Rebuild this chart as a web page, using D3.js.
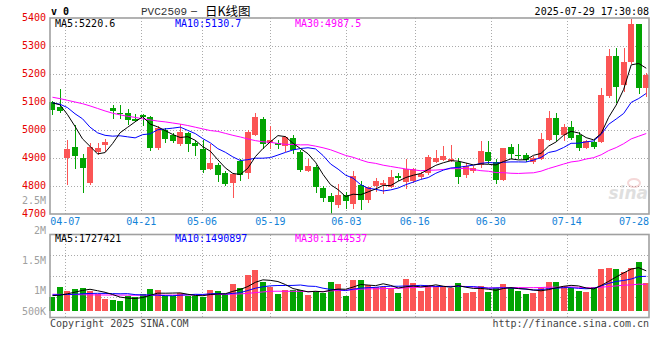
<!DOCTYPE html>
<html>
<head>
<meta charset="utf-8">
<script src="https://cdn.jsdelivr.net/npm/d3@7"></script>
<style>
    body { margin: 0; background: #fff; }
    svg text { font-family: 'DejaVu Sans Mono', monospace; font-size: 10px; }
</style>
</head>
<body>
<svg id="chart" width="660" height="360"></svg>
<script>
const dates = [
    '04-02', '04-03', '04-07', '04-08', '04-09', '04-10', '04-11', '04-14', '04-15', '04-16',
    '04-17', '04-18', '04-21', '04-22', '04-23', '04-24', '04-25', '04-28', '04-29', '04-30',
    '05-06', '05-07', '05-08', '05-09', '05-12', '05-13', '05-14', '05-15', '05-16', '05-19',
    '05-20', '05-21', '05-22', '05-23', '05-26', '05-27', '05-28', '05-29', '05-30', '06-03',
    '06-04', '06-05', '06-06', '06-09', '06-10', '06-11', '06-12', '06-13', '06-16', '06-17',
    '06-18', '06-19', '06-20', '06-23', '06-24', '06-25', '06-26', '06-27', '06-30', '07-01',
    '07-02', '07-03', '07-04', '07-07', '07-08', '07-09', '07-10', '07-11', '07-14', '07-15',
    '07-16', '07-17', '07-18', '07-21', '07-22', '07-23', '07-24', '07-25', '07-28', '07-29'
]

const opens = [
    5101, 5083, 4899, 4941, 4901, 4809, 4923, 4946, 5080, 5062,
    5062, 5040, 5053, 5047, 4934, 4999, 4981, 4950, 4990, 4952,
    4933, 4859, 4874, 4845, 4809, 4889, 4847, 4981, 5038, 4955,
    4955, 4942, 4972, 4921, 4852, 4868, 4794, 4763, 4733, 4769,
    4734, 4805, 4749, 4799, 4804, 4796, 4837, 4816, 4818, 4833,
    4848, 4887, 4892, 4891, 4885, 4838, 4852, 4876, 4922, 4887,
    4822, 4940, 4911, 4910, 4886, 4895, 4965, 5044, 4981, 5012,
    4981, 4934, 4957, 4957, 5122, 5264, 5160, 5243, 5377, 5151
]
const highs = [
    5105, 5146, 4966, 5019, 4916, 4954, 4954, 4968, 5091, 5090,
    5075, 5057, 5057, 5050, 5013, 5007, 4990, 5022, 4993, 4966,
    4964, 4951, 4881, 4852, 4847, 4895, 5000, 5059, 5046, 5014,
    4964, 4978, 4983, 4930, 4896, 4875, 4800, 4774, 4806, 4779,
    4852, 4818, 4797, 4829, 4823, 4858, 4847, 4895, 4865, 4850,
    4910, 4930, 4942, 4948, 4901, 4883, 4872, 4961, 4962, 4895,
    4937, 4949, 4949, 4919, 4907, 4991, 5068, 5062, 5020, 5032,
    4993, 4965, 4967, 5151, 5288, 5294, 5294, 5395, 5380, 5202
]
const lows = [
    5053, 5060, 4802, 4861, 4775, 4802, 4909, 4921, 5040, 5040,
    5019, 5028, 5013, 4926, 4930, 4954, 4954, 4942, 4921, 4906,
    4845, 4857, 4814, 4800, 4756, 4818, 4826, 4978, 4933, 4933,
    4933, 4922, 4915, 4849, 4849, 4775, 4744, 4701, 4720, 4718,
    4718, 4714, 4740, 4778, 4772, 4794, 4818, 4790, 4810, 4825,
    4838, 4883, 4888, 4885, 4806, 4829, 4845, 4865, 4880, 4806,
    4818, 4895, 4898, 4886, 4878, 4893, 4961, 4961, 4961, 4963,
    4925, 4931, 4931, 4953, 5116, 5098, 5136, 5235, 5128, 5119
]
const closes = [
    5072, 5069, 4932, 4906, 4863, 4938, 4934, 4956, 5067, 5056,
    5035, 5032, 5047, 4935, 5007, 4969, 4962, 4993, 4950, 4942,
    4856, 4881, 4839, 4806, 4842, 4838, 4993, 5046, 4950, 4963,
    4948, 4975, 4927, 4856, 4870, 4796, 4758, 4744, 4767, 4747,
    4837, 4749, 4795, 4819, 4811, 4833, 4827, 4861, 4860, 4842,
    4905, 4901, 4907, 4897, 4833, 4873, 4866, 4925, 4890, 4822,
    4934, 4913, 4907, 4893, 4901, 4967, 5044, 4981, 5012, 4973,
    4937, 4961, 4941, 5124, 5264, 5155, 5243, 5377, 5149, 5195
]

// price moving averages
const ma5 = [
    5097, 5090, 5055, 5013, 4968.4, 4941.6, 4914.6, 4919.4, 4951.6, 4990.2,
    5009.6, 5029.2, 5047.4, 5021, 5011.2, 4998, 4984, 4973.2, 4976.2, 4963.2,
    4940.6, 4924.4, 4893.6, 4864.8, 4844.8, 4841.2, 4863.6, 4905, 4933.8, 4958,
    4980, 4976.4, 4952.6, 4933.8, 4915.2, 4884.8, 4841.4, 4804.8, 4787, 4762.4,
    4770.6, 4768.8, 4779, 4789.4, 4802.2, 4801.4, 4817, 4830.2, 4838.4, 4844.6,
    4859, 4873.8, 4883, 4890.4, 4888.6, 4882.2, 4875.2, 4878.8, 4877.4, 4875.2,
    4887.4, 4896.8, 4893.2, 4893.8, 4909.6, 4916.2, 4942.4, 4957.2, 4981, 4995.4,
    4989.4, 4972.8, 4964.8, 4987.2, 5045.4, 5089, 5145.4, 5232.6, 5237.6, 5220.6
]
const ma10 = [
    5097, 5092, 5080, 5058, 5040, 5010, 4990, 4981, 4978, 4979.3,
    4975.6, 4971.9, 4983.4, 4986.3, 5000.7, 5003.8, 5006.6, 5010.3, 4998.6, 4987.2,
    4969.3, 4954.2, 4933.4, 4920.5, 4904, 4890.9, 4894, 4899.3, 4899.3, 4901.4,
    4910.6, 4920, 4928.8, 4933.8, 4936.6, 4932.4, 4908.9, 4878.7, 4860.4, 4838.8,
    4827.7, 4805.1, 4791.9, 4788.2, 4782.3, 4786, 4792.9, 4804.6, 4813.9, 4823.4,
    4830.2, 4845.4, 4856.6, 4864.4, 4866.6, 4870.6, 4874.5, 4880.9, 4883.9, 4881.9,
    4884.8, 4886, 4886, 4885.6, 4892.4, 4901.8, 4919.6, 4925.2, 4937.4, 4952.5,
    4952.8, 4957.6, 4961, 4984.1, 5020.4, 5039.2, 5059.1, 5098.7, 5112.4, 5130.7
]
const ma30 = [
    5117, 5112, 5106, 5100, 5094, 5086, 5077, 5068, 5060, 5054,
    5049, 5045, 5040, 5036, 5032, 5029, 5025, 5021, 5016, 5010,
    5004, 4998, 4995, 4988, 4981, 4975, 4968, 4962, 4958, 4956,
    4951.8, 4948.7, 4948.5, 4946.9, 4947.1, 4942.4, 4936.5, 4929.4, 4919.4, 4909.1,
    4902.5, 4893.1, 4884.7, 4880.8, 4874.3, 4869.8, 4865.3, 4860.9, 4857.9, 4854.5,
    4856.2, 4856.8, 4859.1, 4862.1, 4861.8, 4863, 4858.8, 4854.7, 4852.7, 4848,
    4847.6, 4845.5, 4844.8, 4846.1, 4847.1, 4852.8, 4862.3, 4870.2, 4878.4, 4885.9,
    4889.3, 4896.3, 4901.2, 4911.4, 4926.5, 4937.2, 4951.1, 4968.3, 4977.9, 4987.5
]

// volumes in thousands of lots
const volumes = [
    613, 1027, 857, 943, 987, 857, 714, 514, 471, 428,
    657, 613, 728, 943, 900, 643, 643, 771, 643, 643,
    586, 900, 857, 728, 1157, 987, 1543, 1757, 1257, 1043,
    728, 900, 900, 900, 686, 857, 771, 1247, 1157, 643,
    1327, 1327, 1114, 1043, 1043, 971, 771, 1371, 1214, 857,
    1114, 1071, 1071, 1000, 1200, 771, 814, 1071, 814, 986,
    1157, 986, 871, 728, 771, 986, 1243, 1243, 1071, 971,
    857, 814, 1028, 1814, 1857, 1814, 1671, 1857, 2114, 1214
]
const volMa5 = [
    660, 680, 740, 810, 885, 934, 872, 803, 709, 597,
    557, 537, 579, 674, 768, 765, 771, 780, 720, 669,
    657, 709, 726, 743, 846, 926, 1054, 1234, 1340, 1317,
    1266, 1137, 966, 894, 823, 849, 823, 892, 944, 935,
    1029, 1140, 1114, 1091, 1171, 1100, 988, 1040, 1074, 1037,
    1065, 1125, 1065, 1023, 1091, 1023, 971, 971, 934, 891,
    968, 1003, 963, 946, 903, 868, 920, 994, 1063, 1103,
    1077, 991, 948, 1097, 1274, 1465, 1637, 1803, 1863, 1727
]
const volMa10 = [
    690, 700, 710, 720, 740, 755, 760, 755, 748, 741,
    746, 704, 691, 691, 683, 661, 654, 680, 697, 718,
    711, 740, 753, 731, 757, 792, 882, 980, 1042, 1082,
    1096, 1096, 1100, 1117, 1070, 1057, 980, 929, 919, 879,
    939, 982, 1003, 1017, 1053, 1064, 1064, 1077, 1082, 1104,
    1083, 1057, 1053, 1048, 1064, 1044, 1048, 1018, 978, 991,
    996, 987, 967, 940, 897, 918, 961, 979, 1004, 1003,
    973, 956, 971, 1080, 1188, 1271, 1314, 1375, 1480, 1491
]
const volMa30 = [
    720, 715, 710, 705, 700, 695, 690, 688, 686, 684,
    682, 680, 680, 680, 682, 684, 686, 688, 690, 692,
    695, 700, 708, 716, 725, 735, 760, 790, 820, 847,
    851, 847, 848, 847, 837, 837, 838, 863, 886, 893,
    915, 939, 952, 955, 960, 971, 975, 995, 1014, 1021,
    1039, 1045, 1052, 1061, 1062, 1055, 1031, 1008, 993, 991,
    1006, 1008, 1008, 1002, 1005, 1009, 1025, 1025, 1022, 1033,
    1017, 1000, 997, 1023, 1050, 1078, 1108, 1124, 1154, 1145
]

const priceTicks = [5400, 5300, 5200, 5100, 5000, 4900, 4800, 4700]
const volTicks = [2.5e6, 2e6, 1.5e6, 1e6, 5e5]
const volTickLabels = ['2.5M', '2M', '1.5M', '1M', '500K']
const dateLabels = ['04-07', '04-21', '05-06', '05-19', '06-03', '06-16', '06-30', '07-14', '07-28']

const priceLegend = [
    { text: 'MA5:5220.6', colour: '#000' },
    { text: 'MA10:5130.7', colour: '#0000ff' },
    { text: 'MA30:4987.5', colour: '#ff00ff' }
]
const volLegend = [
    { text: 'MA5:1727421', colour: '#000' },
    { text: 'MA10:1490897', colour: '#0000ff' },
    { text: 'MA30:1144537', colour: '#ff00ff' }
]

const UP = '#fb5555'
const DOWN = '#02a402'
const GRID = '#aaaaaa'
const left = 50, right = 649
const pricePanel = { top: 18, bottom: 214 }
const volPanel = { top: 234.5, bottom: 317.5 }

const svg = d3.select('#chart')

const x = d3.scaleBand().domain(dates).range([48.7, 650])
const xGrid = d3.scalePoint().domain(dates).range([50, 650.4])
const y = d3.scaleLinear().domain([4700, 5400]).range([pricePanel.bottom, pricePanel.top])
const yVol = d3.scaleLinear().domain([0, 1e6]).range([311, 311 - 1e6 / 43000])
const yVolLabel = d3.scaleLinear().domain(volTicks).range([200.5, 230, 260.3, 290.7, 311])

const bw = x.bandwidth()
const bodyX = d => Math.round(x(d) + (bw - 6) / 2)
const cx = d => x(d) + bw / 2

const candles = dates.map((d, i) => ({
    date: d, o: opens[i], h: highs[i], l: lows[i], c: closes[i], v: volumes[i] * 1000
}))

// grid
const grid = svg.append('g').attr('stroke', GRID).attr('stroke-dasharray', '1,2').attr('shape-rendering', 'crispEdges')
grid.selectAll('.hgrid')
    .data(priceTicks.slice(1, -1))
    .join('line')
    .attr('x1', left).attr('x2', right)
    .attr('y1', d => Math.round(y(d)) + 0.5).attr('y2', d => Math.round(y(d)) + 0.5)

const volGridYs = d3.range(1, 4).map(k => volPanel.top + (volPanel.bottom - volPanel.top) * k / 4)
grid.selectAll('.vgrid')
    .data(volGridYs)
    .join('line')
    .attr('x1', left).attr('x2', right)
    .attr('y1', d => Math.round(d) + 0.5).attr('y2', d => Math.round(d) + 0.5)

const gridDates = dateLabels.slice(0, -1)
;[pricePanel, volPanel].forEach(p => {
    grid.append('g').selectAll('line')
        .data(gridDates)
        .join('line')
        .attr('x1', d => Math.round(xGrid(d)) + 0.5).attr('x2', d => Math.round(xGrid(d)) + 0.5)
        .attr('y1', p.top).attr('y2', p.bottom)
})

// watermark
const mark = svg.append('g').attr('opacity', 0.3)
mark.append('ellipse').attr('cx', 634).attr('cy', 183).attr('rx', 6).attr('ry', 4)
    .attr('fill', 'none').attr('stroke', '#e08080').attr('stroke-width', 2)
mark.append('text').attr('x', 648).attr('y', 199).attr('text-anchor', 'end')
    .style('font-family', 'DejaVu Sans').style('font-size', '17px').style('font-style', 'italic')
    .style('font-weight', 'bold').attr('fill', '#999').text('sina')

// candles
const cg = svg.append('g').attr('shape-rendering', 'crispEdges')
cg.selectAll('line')
    .data(candles)
    .join('line')
    .attr('x1', d => bodyX(d.date) + 3.5).attr('x2', d => bodyX(d.date) + 3.5)
    .attr('y1', d => y(d.h)).attr('y2', d => y(d.l))
    .attr('stroke', d => d.c >= d.o ? UP : DOWN)
cg.selectAll('rect')
    .data(candles)
    .join('rect')
    .attr('x', d => bodyX(d.date))
    .attr('width', 6)
    .attr('y', d => y(Math.max(d.o, d.c)))
    .attr('height', d => Math.max(1, Math.abs(y(d.o) - y(d.c))))
    .attr('fill', d => d.c >= d.o ? UP : DOWN)

// volume bars
svg.append('g').attr('shape-rendering', 'crispEdges')
    .selectAll('rect')
    .data(candles)
    .join('rect')
    .attr('x', d => bodyX(d.date))
    .attr('width', 6)
    .attr('y', d => yVol(d.v))
    .attr('height', d => yVol(0) - yVol(d.v))
    .attr('fill', d => d.c >= d.o ? UP : DOWN)

// moving averages
const drawLine = (values, scale, colour) => {
    svg.append('path')
        .datum(values)
        .attr('fill', 'none')
        .attr('stroke', colour)
        .attr('stroke-width', 1)
        .attr('d', d3.line().x((d, i) => cx(dates[i])).y(d => scale(d)))
}
drawLine(ma30, y, '#ff00ff')
drawLine(ma10, y, '#0000ff')
drawLine(ma5, y, '#000')
const yVolK = v => yVol(v * 1000)
drawLine(volMa30, yVolK, '#ff00ff')
drawLine(volMa10, yVolK, '#0000ff')
drawLine(volMa5, yVolK, '#000')

// panel borders
;[pricePanel, volPanel].forEach(p => {
    svg.append('rect')
        .attr('x', left).attr('y', p.top)
        .attr('width', right - left).attr('height', p.bottom - p.top)
        .attr('fill', 'none').attr('stroke', '#a0a0a0').attr('stroke-width', 1.6)
})

// price axis labels
svg.append('g').selectAll('text')
    .data(priceTicks)
    .join('text')
    .attr('x', 46).attr('y', d => y(d) + 2.5)
    .attr('text-anchor', 'end').attr('fill', '#e60000')
    .text(d => d)

svg.append('g').selectAll('text')
    .data(volTicks)
    .join('text')
    .attr('x', 46).attr('y', d => yVolLabel(d) + 3.5)
    .attr('text-anchor', 'end').attr('fill', '#a0a0a0')
    .text((d, i) => volTickLabels[i])

// date labels
svg.append('g').selectAll('text')
    .data(dateLabels)
    .join('text')
    .attr('x', d => Math.min(xGrid(d), right - 15))
    .attr('y', 225)
    .attr('text-anchor', 'middle').attr('fill', '#1483d8')
    .text(d => d)

// legends
const addLegend = (items, baseline) => {
    svg.append('g').selectAll('text')
        .data(items)
        .join('text')
        .attr('x', (d, i) => 55 + i * 120)
        .attr('y', baseline)
        .attr('fill', d => d.colour)
        .text(d => d.text)
}
addLegend(priceLegend, 27)
addLegend(volLegend, 242)

// header
svg.append('text').attr('x', 51).attr('y', 15).style('font-weight', 'bold').text('v 0')
svg.append('text').attr('x', 141).attr('y', 15).attr('fill', '#333')
    .style('font-family', "'Liberation Mono', monospace").style('font-size', '11px')
    .text('PVC2509')
svg.append('text').attr('x', 191).attr('y', 14).attr('fill', '#222').text('–')
svg.append('text').attr('x', 205).attr('y', 15.5)
    .style('font-family', "'Noto Sans CJK SC', sans-serif").style('font-size', '12.5px')
    .attr('fill', '#000').text('日K线图')
svg.append('text').attr('x', right).attr('y', 15).attr('text-anchor', 'end').text('2025-07-29 17:30:08')

// footer
svg.append('text').attr('x', 50).attr('y', 327).attr('fill', '#444').text('Copyright 2025 SINA.COM')
svg.append('text').attr('x', right).attr('y', 327).attr('text-anchor', 'end').attr('fill', '#444')
    .text('http://finance.sina.com.cn')
</script>
</body>
</html>
